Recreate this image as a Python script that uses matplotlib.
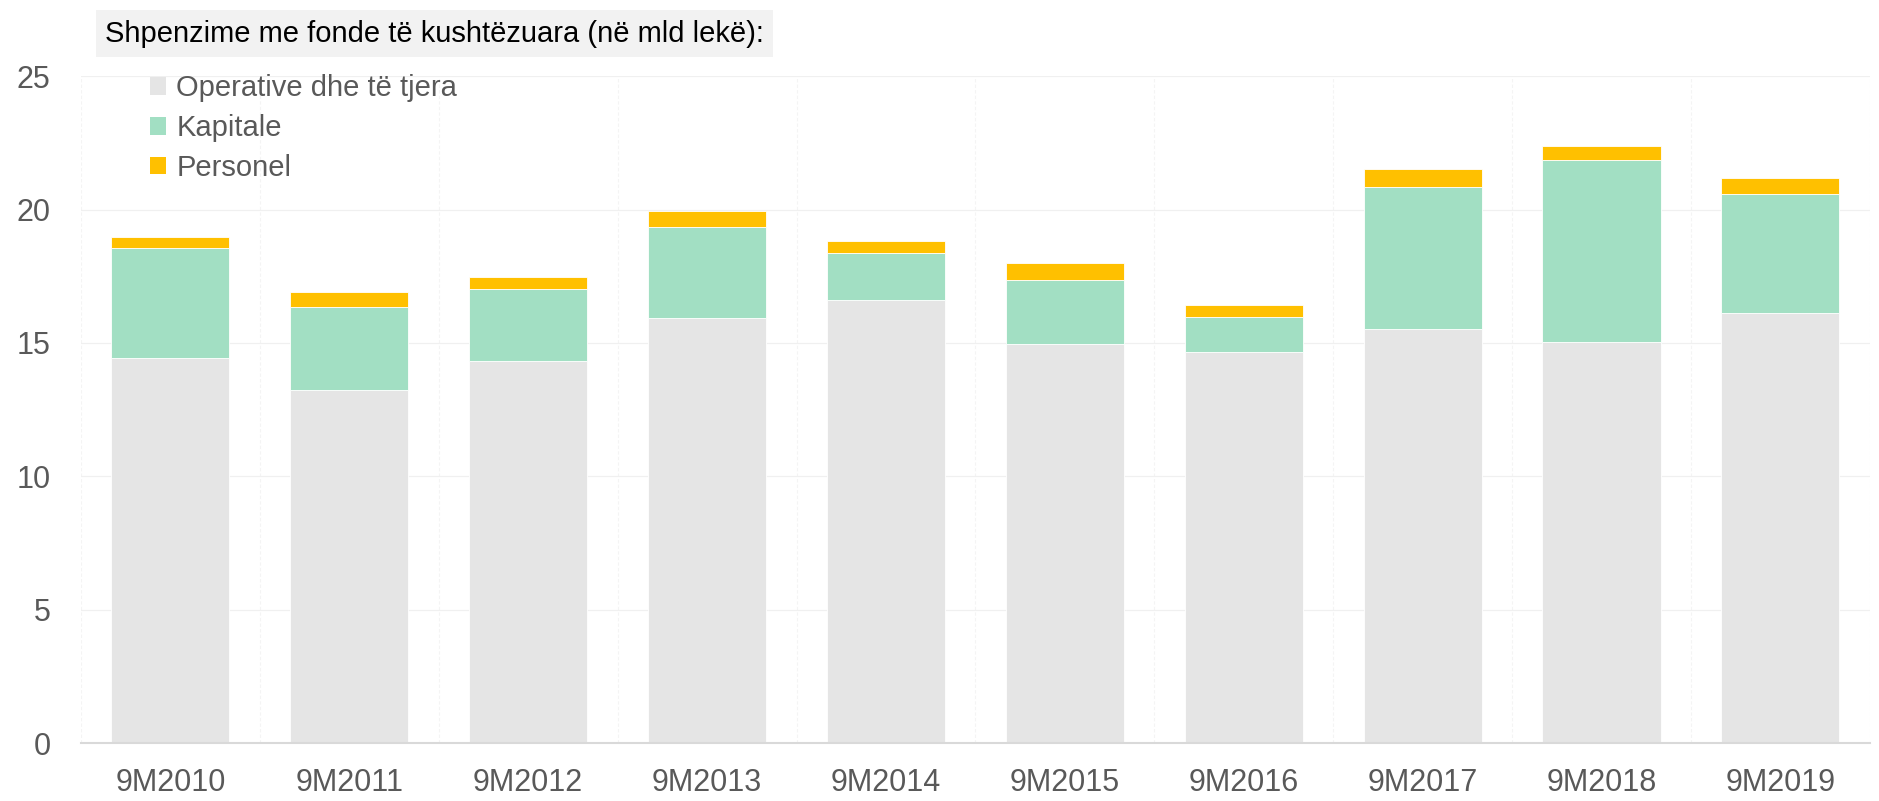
import matplotlib

matplotlib.use("Agg")

import matplotlib.pyplot as plt
import numpy as np
from matplotlib.patches import Patch
from matplotlib.ticker import FixedLocator

plt.rcParams["font.family"] = ["Liberation Sans", "DejaVu Sans"]

GRAY = "#E5E5E5"
GREEN = "#A2DFC3"
YELLOW = "#FFC000"
TEXT = "#595959"
GRID = "#F0F0F0"

categories = ["9M2010", "9M2011", "9M2012", "9M2013", "9M2014",
              "9M2015", "9M2016", "9M2017", "9M2018", "9M2019"]
operative = [14.44, 13.23, 14.32, 15.93, 16.62, 14.96, 14.66, 15.52, 15.04, 16.12]
kapitale = [4.12, 3.10, 2.70, 3.40, 1.74, 2.39, 1.31, 5.33, 6.83, 4.46]
personel = [0.41, 0.59, 0.45, 0.60, 0.46, 0.63, 0.46, 0.68, 0.51, 0.61]

x = np.arange(len(categories))
op = np.array(operative)
kap = np.array(kapitale)

fig = plt.figure(figsize=(18.79, 8.01), dpi=100)
ax = fig.add_axes([0.0431, 0.072, 0.952, 0.833])

width = 0.66
ax.bar(x, op, width, color=GRAY, edgecolor="white", linewidth=0.6, zorder=2)
ax.bar(x, kap, width, bottom=op, color=GREEN, edgecolor="white", linewidth=0.6, zorder=2)
ax.bar(x, personel, width, bottom=op + kap, color=YELLOW, edgecolor="white", linewidth=0.6, zorder=2)

ax.set_xlim(-0.5, len(categories) - 0.5)
ax.set_ylim(0, 25)
ax.set_yticks([0, 5, 10, 15, 20, 25])
ax.set_xticks(x)
ax.set_xticklabels(categories)
ax.xaxis.set_minor_locator(FixedLocator(np.arange(-0.5, len(categories), 1.0)))

# faint gridlines: horizontal at the ticks, vertical between the bars
ax.grid(axis="y", which="major", color=GRID, linewidth=0.9, zorder=0)
ax.grid(axis="x", which="minor", color="#F4F4F4", linewidth=0.8, linestyle=(0, (3, 2)), zorder=0)
ax.set_axisbelow(True)

for side in ("top", "right", "left"):
    ax.spines[side].set_visible(False)
ax.spines["bottom"].set_color("#D9D9D9")
ax.spines["bottom"].set_linewidth(1.5)

ax.tick_params(axis="both", which="both", length=0, colors=TEXT, labelsize=22)
ax.tick_params(axis="x", pad=18)
ax.tick_params(axis="y", pad=22)

handles = [
    Patch(facecolor=GRAY, label="Operative dhe të tjera"),
    Patch(facecolor=GREEN, label="Kapitale"),
    Patch(facecolor=YELLOW, label="Personel"),
]
leg = ax.legend(handles=handles, loc="upper left", bbox_to_anchor=(0.032, 1.02),
                frameon=False, fontsize=21, handlelength=0.55, handleheight=0.55,
                handletextpad=0.35, labelspacing=0.4, borderaxespad=0)
for t in leg.get_texts():
    t.set_color(TEXT)

fig.text(0.0558, 0.958, "Shpenzime me fonde të kushtëzuara (në mld lekë):",
         ha="left", va="center", fontsize=21, color="black",
         bbox=dict(boxstyle="square,pad=0.32", facecolor="#F2F2F2", edgecolor="none"))

fig.savefig("out.png", dpi=100)
